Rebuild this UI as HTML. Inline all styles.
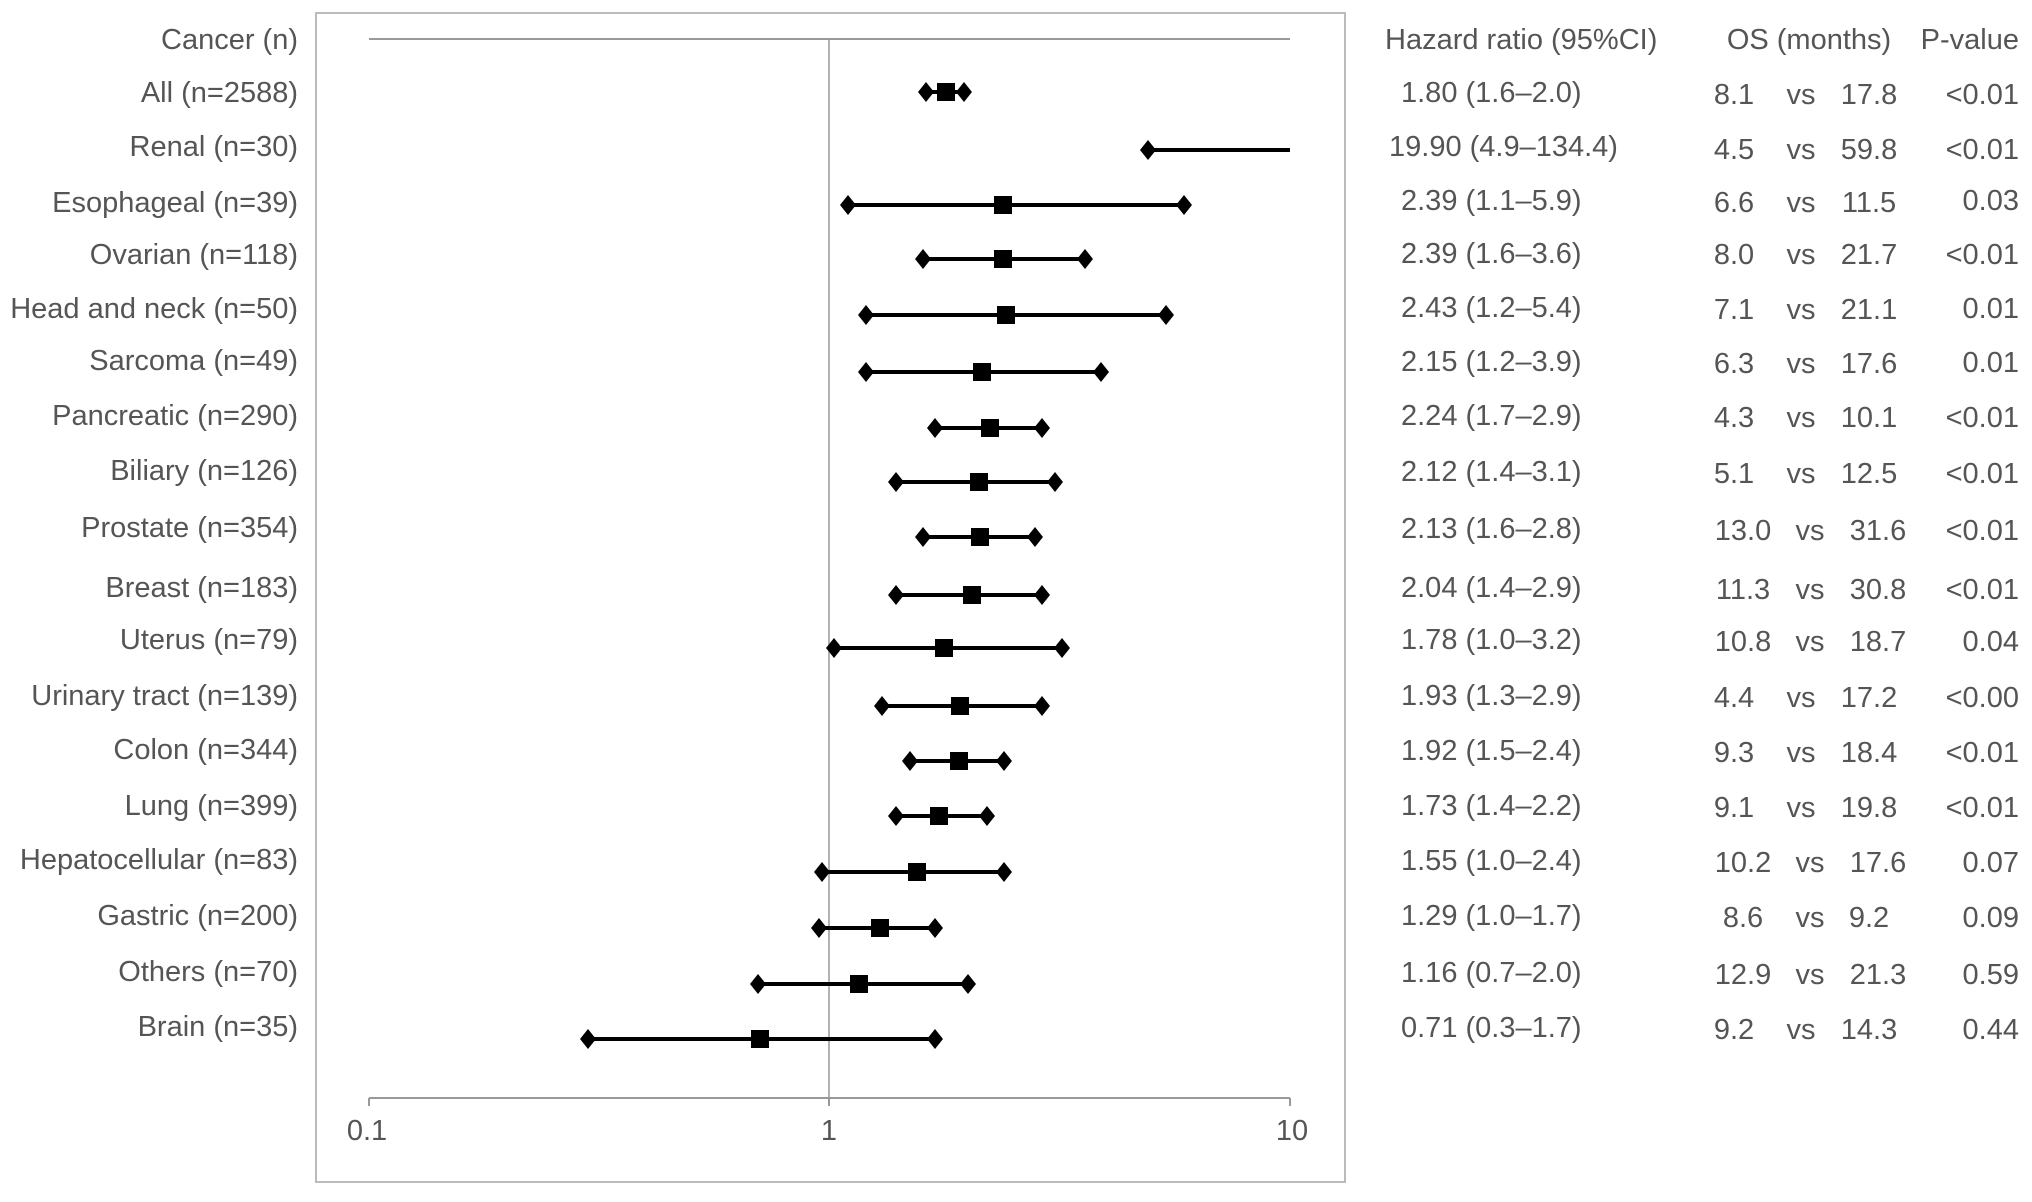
<!DOCTYPE html>
<html><head><meta charset="utf-8"><style>
html,body{margin:0;padding:0;background:#fff;}
svg text{font-family:"Liberation Sans",sans-serif;font-size:29px;fill:#555;}
</style></head><body>
<svg width="2032" height="1197" viewBox="0 0 2032 1197" xmlns="http://www.w3.org/2000/svg">
<rect x="316" y="13" width="1029" height="1169" fill="none" stroke="#bbb" stroke-width="2"/>
<line x1="369" y1="39" x2="1290" y2="39" stroke="#999" stroke-width="2"/>
<line x1="829" y1="39" x2="829" y2="1098" stroke="#999" stroke-width="1.5"/>
<line x1="369" y1="1098" x2="1290" y2="1098" stroke="#999" stroke-width="2"/>
<line x1="369" y1="1098" x2="369" y2="1106" stroke="#999" stroke-width="2"/>
<line x1="829" y1="1098" x2="829" y2="1106" stroke="#999" stroke-width="2"/>
<line x1="1290" y1="1098" x2="1290" y2="1106" stroke="#999" stroke-width="2"/>
<g text-anchor="middle"><text x="367" y="1140">0.1</text><text x="829" y="1140">1</text><text x="1292" y="1140">10</text></g>

<defs>
<path id="d" d="M0,-10 L8,0 L0,10 L-8,0 Z" fill="#000"/>
<rect id="s" x="-9" y="-9" width="18" height="18" fill="#000"/>
</defs>
<g stroke="#000" stroke-width="4">
<line x1="923" y1="92" x2="968" y2="92"/>
<line x1="1147" y1="150" x2="1290" y2="150"/>
<line x1="848" y1="205" x2="1184" y2="205"/>
<line x1="923" y1="259" x2="1085" y2="259"/>
<line x1="866" y1="315" x2="1166" y2="315"/>
<line x1="866" y1="372" x2="1101" y2="372"/>
<line x1="935" y1="428" x2="1042" y2="428"/>
<line x1="896" y1="482" x2="1055" y2="482"/>
<line x1="923" y1="537" x2="1035" y2="537"/>
<line x1="896" y1="595" x2="1042" y2="595"/>
<line x1="834" y1="648" x2="1062" y2="648"/>
<line x1="882" y1="706" x2="1042" y2="706"/>
<line x1="910" y1="761" x2="1004" y2="761"/>
<line x1="896" y1="816" x2="987" y2="816"/>
<line x1="822" y1="872" x2="1004" y2="872"/>
<line x1="819" y1="928" x2="935" y2="928"/>
<line x1="758" y1="984" x2="968" y2="984"/>
<line x1="588" y1="1039" x2="935" y2="1039"/>
</g>
<g>
<use href="#d" x="926" y="92"/><use href="#d" x="964" y="92"/><use href="#s" x="946" y="92"/>
<use href="#d" x="1148" y="150"/>
<use href="#d" x="848" y="205"/><use href="#d" x="1184" y="205"/><use href="#s" x="1003" y="205"/>
<use href="#d" x="923" y="259"/><use href="#d" x="1085" y="259"/><use href="#s" x="1003" y="259"/>
<use href="#d" x="866" y="315"/><use href="#d" x="1166" y="315"/><use href="#s" x="1006" y="315"/>
<use href="#d" x="866" y="372"/><use href="#d" x="1101" y="372"/><use href="#s" x="982" y="372"/>
<use href="#d" x="935" y="428"/><use href="#d" x="1042" y="428"/><use href="#s" x="990" y="428"/>
<use href="#d" x="896" y="482"/><use href="#d" x="1055" y="482"/><use href="#s" x="979" y="482"/>
<use href="#d" x="923" y="537"/><use href="#d" x="1035" y="537"/><use href="#s" x="980" y="537"/>
<use href="#d" x="896" y="595"/><use href="#d" x="1042" y="595"/><use href="#s" x="972" y="595"/>
<use href="#d" x="834" y="648"/><use href="#d" x="1062" y="648"/><use href="#s" x="944" y="648"/>
<use href="#d" x="882" y="706"/><use href="#d" x="1042" y="706"/><use href="#s" x="960" y="706"/>
<use href="#d" x="910" y="761"/><use href="#d" x="1004" y="761"/><use href="#s" x="959" y="761"/>
<use href="#d" x="896" y="816"/><use href="#d" x="987" y="816"/><use href="#s" x="939" y="816"/>
<use href="#d" x="822" y="872"/><use href="#d" x="1004" y="872"/><use href="#s" x="917" y="872"/>
<use href="#d" x="819" y="928"/><use href="#d" x="935" y="928"/><use href="#s" x="880" y="928"/>
<use href="#d" x="758" y="984"/><use href="#d" x="968" y="984"/><use href="#s" x="859" y="984"/>
<use href="#d" x="588" y="1039"/><use href="#d" x="935" y="1039"/><use href="#s" x="760" y="1039"/>
</g>

<g text-anchor="end">
<text x="298" y="49">Cancer (n)</text>
<text x="298" y="102">All (n=2588)</text>
<text x="298" y="156">Renal (n=30)</text>
<text x="298" y="212">Esophageal (n=39)</text>
<text x="298" y="264">Ovarian (n=118)</text>
<text x="298" y="318">Head and neck (n=50)</text>
<text x="298" y="370">Sarcoma (n=49)</text>
<text x="298" y="425">Pancreatic (n=290)</text>
<text x="298" y="480">Biliary (n=126)</text>
<text x="298" y="537">Prostate (n=354)</text>
<text x="298" y="597">Breast (n=183)</text>
<text x="298" y="649">Uterus (n=79)</text>
<text x="298" y="705">Urinary tract (n=139)</text>
<text x="298" y="759">Colon (n=344)</text>
<text x="298" y="815">Lung (n=399)</text>
<text x="298" y="869">Hepatocellular (n=83)</text>
<text x="298" y="925">Gastric (n=200)</text>
<text x="298" y="981">Others (n=70)</text>
<text x="298" y="1036">Brain (n=35)</text>
</g>

<text x="1385" y="49">Hazard ratio (95%CI)</text>
<text x="1809" y="49" text-anchor="middle">OS (months)</text>
<text x="2019" y="49" text-anchor="end">P-value</text>

<g>
<text x="1401" y="102">1.80 (1.6–2.0)</text>
<text x="1389" y="156">19.90 (4.9–134.4)</text>
<text x="1401" y="210">2.39 (1.1–5.9)</text>
<text x="1401" y="263">2.39 (1.6–3.6)</text>
<text x="1401" y="317">2.43 (1.2–5.4)</text>
<text x="1401" y="371">2.15 (1.2–3.9)</text>
<text x="1401" y="425">2.24 (1.7–2.9)</text>
<text x="1401" y="481">2.12 (1.4–3.1)</text>
<text x="1401" y="538">2.13 (1.6–2.8)</text>
<text x="1401" y="597">2.04 (1.4–2.9)</text>
<text x="1401" y="649">1.78 (1.0–3.2)</text>
<text x="1401" y="705">1.93 (1.3–2.9)</text>
<text x="1401" y="760">1.92 (1.5–2.4)</text>
<text x="1401" y="815">1.73 (1.4–2.2)</text>
<text x="1401" y="870">1.55 (1.0–2.4)</text>
<text x="1401" y="925">1.29 (1.0–1.7)</text>
<text x="1401" y="982">1.16 (0.7–2.0)</text>
<text x="1401" y="1037">0.71 (0.3–1.7)</text>
</g>

<g text-anchor="middle">
<text x="1734" y="104">8.1</text><text x="1801" y="104">vs</text><text x="1869" y="104">17.8</text>
<text x="1734" y="159">4.5</text><text x="1801" y="159">vs</text><text x="1869" y="159">59.8</text>
<text x="1734" y="212">6.6</text><text x="1801" y="212">vs</text><text x="1869" y="212">11.5</text>
<text x="1734" y="264">8.0</text><text x="1801" y="264">vs</text><text x="1869" y="264">21.7</text>
<text x="1734" y="319">7.1</text><text x="1801" y="319">vs</text><text x="1869" y="319">21.1</text>
<text x="1734" y="373">6.3</text><text x="1801" y="373">vs</text><text x="1869" y="373">17.6</text>
<text x="1734" y="427">4.3</text><text x="1801" y="427">vs</text><text x="1869" y="427">10.1</text>
<text x="1734" y="483">5.1</text><text x="1801" y="483">vs</text><text x="1869" y="483">12.5</text>
<text x="1743" y="540">13.0</text><text x="1810" y="540">vs</text><text x="1878" y="540">31.6</text>
<text x="1743" y="599">11.3</text><text x="1810" y="599">vs</text><text x="1878" y="599">30.8</text>
<text x="1743" y="651">10.8</text><text x="1810" y="651">vs</text><text x="1878" y="651">18.7</text>
<text x="1734" y="707">4.4</text><text x="1801" y="707">vs</text><text x="1869" y="707">17.2</text>
<text x="1734" y="762">9.3</text><text x="1801" y="762">vs</text><text x="1869" y="762">18.4</text>
<text x="1734" y="817">9.1</text><text x="1801" y="817">vs</text><text x="1869" y="817">19.8</text>
<text x="1743" y="872">10.2</text><text x="1810" y="872">vs</text><text x="1878" y="872">17.6</text>
<text x="1743" y="927">8.6</text><text x="1810" y="927">vs</text><text x="1869" y="927">9.2</text>
<text x="1743" y="984">12.9</text><text x="1810" y="984">vs</text><text x="1878" y="984">21.3</text>
<text x="1734" y="1039">9.2</text><text x="1801" y="1039">vs</text><text x="1869" y="1039">14.3</text>
</g>

<g text-anchor="end">
<text x="2019" y="104">&lt;0.01</text>
<text x="2019" y="159">&lt;0.01</text>
<text x="2019" y="210">0.03</text>
<text x="2019" y="264">&lt;0.01</text>
<text x="2019" y="318">0.01</text>
<text x="2019" y="372">0.01</text>
<text x="2019" y="427">&lt;0.01</text>
<text x="2019" y="483">&lt;0.01</text>
<text x="2019" y="540">&lt;0.01</text>
<text x="2019" y="599">&lt;0.01</text>
<text x="2019" y="651">0.04</text>
<text x="2019" y="707">&lt;0.00</text>
<text x="2019" y="762">&lt;0.01</text>
<text x="2019" y="817">&lt;0.01</text>
<text x="2019" y="872">0.07</text>
<text x="2019" y="927">0.09</text>
<text x="2019" y="984">0.59</text>
<text x="2019" y="1039">0.44</text>
</g>
</svg>
</body></html>
